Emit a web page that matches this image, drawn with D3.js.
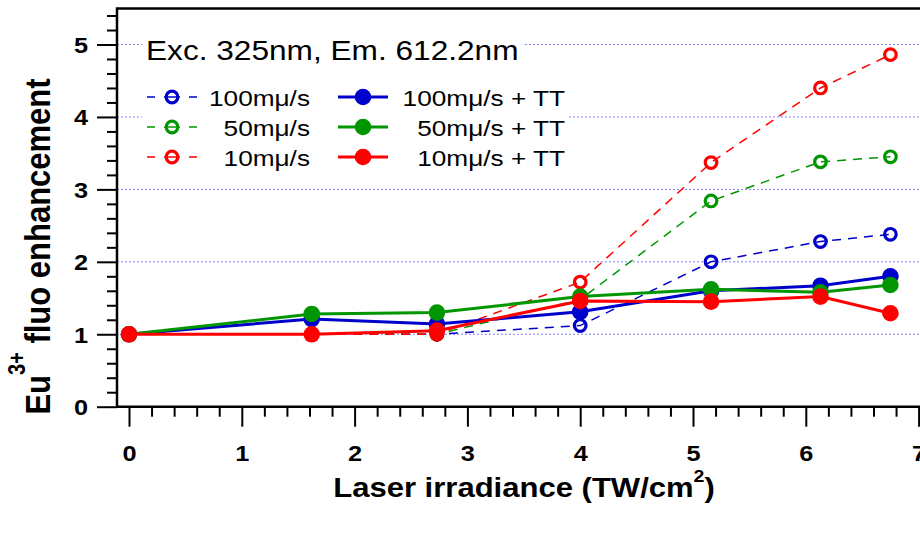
<!DOCTYPE html>
<html>
<head>
<meta charset="utf-8">
<script src="https://cdn.jsdelivr.net/npm/d3@7"></script>
<style>
  body { margin: 0; background: #fff; }
  text { font-family: 'Liberation Sans', Arial, sans-serif; }
</style>
</head>
<body>
<svg id="mainFrame" width="920" height="533"></svg>
<script>
// irradiance values (TW/cm2)
const irradianceTT = [0, 1.62, 2.73, 4.0, 5.16, 6.13, 6.75];
const irradiance = [0, 2.73, 4.0, 5.16, 6.13, 6.75];

// enhancement without TT (dashed, open markers)
const v100 = [1.0, 1.0, 1.12, 2.0, 2.28, 2.38];
const v50 = [1.0, 1.0, 1.48, 2.84, 3.38, 3.45];
const v10 = [1.0, 1.0, 1.72, 3.37, 4.40, 4.86];

// enhancement with TT (solid, filled markers)
const v100TT = [1.0, 1.21, 1.14, 1.31, 1.60, 1.67, 1.80];
const v50TT = [1.0, 1.28, 1.30, 1.52, 1.62, 1.58, 1.68];
const v10TT = [1.0, 1.0, 1.05, 1.46, 1.45, 1.52, 1.29];

const speeds = ['100mμ/s', '50mμ/s', '10mμ/s'];
const xTicks = [0, 1, 2, 3, 4, 5, 6, 7];
const yTicks = [0, 1, 2, 3, 4, 5];

const svg = d3.select('#mainFrame');
const width = +svg.attr('width');

const colors = ['#0000cc', '#009600', '#ff0000'];
const sx = 1.15;   // text in the picture is a bit wide

const render = () => {
    const left = 117, top = 8.5;
    const xScale = d3.scaleLinear().domain([0, 7]).range([129, 918.6]);
    const yScale = d3.scaleLinear().domain([0, 5]).range([406.7, 44.5]);
    const y0 = yScale(0);

    // grid
    svg.append('g').selectAll('line').data(yTicks.slice(1))
        .enter().append('line')
            .attr('x1', left).attr('x2', width)
            .attr('y1', d => yScale(d)).attr('y2', d => yScale(d))
            .attr('stroke', '#8080ff')
            .attr('stroke-width', 1)
            .attr('stroke-dasharray', '2,2');

    // x axis
    const minor = d3.range(1, 35).map(i => i / 5).filter(v => Math.abs(v - Math.round(v)) > 0.01);
    const xMinor = svg.append('g')
        .attr('transform', `translate(0,${y0})`)
        .call(d3.axisBottom(xScale).tickValues(minor).tickSize(10).tickFormat(''));
    const xAxisGroup = svg.append('g')
        .attr('transform', `translate(0,${y0})`)
        .call(d3.axisBottom(xScale).tickValues(xTicks).tickSize(20).tickFormat(d3.format('d')));

    // y axis
    const yMinor = svg.append('g')
        .attr('transform', `translate(${left},0)`)
        .call(d3.axisLeft(yScale).tickValues(d3.range(1, 28).map(i => i / 5).filter(v => Math.abs(v - Math.round(v)) > 0.01)).tickSize(10).tickFormat(''));
    const yAxisGroup = svg.append('g')
        .attr('transform', `translate(${left},0)`)
        .call(d3.axisLeft(yScale).tickValues(yTicks).tickSize(20).tickFormat(d3.format('d')));

    [xMinor, xAxisGroup, yMinor, yAxisGroup].forEach(g => {
        g.select('.domain').remove();
        g.selectAll('line').attr('stroke', '#000').attr('stroke-width', 2);
    });

    xAxisGroup.selectAll('text')
        .attr('x', 0).attr('y', 0).attr('dy', null)
        .attr('transform', `translate(0,54) scale(${sx},1)`)
        .attr('fill', '#000')
        .attr('font-family', 'Liberation Sans, Arial, sans-serif')
        .attr('font-size', 22)
        .attr('font-weight', 'bold');

    yAxisGroup.selectAll('text')
        .attr('x', 0).attr('y', 0).attr('dy', null)
        .attr('transform', `translate(-29,8) scale(${sx},1)`)
        .attr('fill', '#000')
        .attr('font-family', 'Liberation Sans, Arial, sans-serif')
        .attr('font-size', 22)
        .attr('font-weight', 'bold');

    // frame lines
    svg.append('path')
        .attr('d', `M${left},${y0}V${top}H${width}M${left},${y0}H${width}`)
        .attr('fill', 'none')
        .attr('stroke', '#000')
        .attr('stroke-width', 2.5);

    // axis labels
    const xLabel = svg.append('text')
        .attr('transform', `translate(524,497) scale(${sx},1)`)
        .attr('text-anchor', 'middle')
        .attr('font-size', 27)
        .attr('font-weight', 'bold');
    xLabel.append('tspan').text('Laser irradiance (TW/cm');
    xLabel.append('tspan').attr('font-size', 17).attr('dy', -15).text('2');
    xLabel.append('tspan').attr('dy', 15).text(')');

    const yLabel = svg.append('text')
        .attr('transform', `translate(50,246.5) rotate(-90) scale(1,${sx})`)
        .attr('text-anchor', 'middle')
        .attr('font-size', 31)
        .attr('font-weight', 'bold');
    yLabel.append('tspan').text('Eu');
    yLabel.append('tspan').attr('font-size', 20).attr('dy', -22).text('3+');
    yLabel.append('tspan').attr('dy', 22).text(' fluo enhancement');

    // annotation boxes
    svg.append('rect').attr('x', 142).attr('y', 30).attr('width', 381).attr('height', 42).attr('fill', '#fff');
    svg.append('rect').attr('x', 142).attr('y', 80).attr('width', 425).attr('height', 92).attr('fill', '#fff');

    svg.append('text')
        .attr('transform', `translate(146,60) scale(${sx},1)`)
        .attr('font-size', 27.5)
        .text('Exc. 325nm, Em. 612.2nm');

    const legend = svg.append('g');
    speeds.forEach((name, i) => {
        const ly = 97 + 30 * i;
        legend.append('line')
            .attr('x1', 147).attr('x2', 197).attr('y1', ly).attr('y2', ly)
            .attr('stroke', colors[i]).attr('stroke-width', 1.5)
            .attr('stroke-dasharray', '8,9,16,9,8');
        legend.append('circle')
            .attr('cx', 172).attr('cy', ly).attr('r', 5.8)
            .attr('fill', 'none').attr('stroke', colors[i]).attr('stroke-width', 3.2);
        legend.append('text')
            .attr('transform', `translate(310,${ly + 8.5}) scale(${sx},1)`)
            .attr('text-anchor', 'end')
            .attr('font-size', 22.8)
            .text(name);

        legend.append('line')
            .attr('x1', 338).attr('x2', 388).attr('y1', ly).attr('y2', ly)
            .attr('stroke', colors[i]).attr('stroke-width', 3);
        legend.append('circle')
            .attr('cx', 363).attr('cy', ly).attr('r', 8.3)
            .attr('fill', colors[i]);
        legend.append('text')
            .attr('transform', `translate(565,${ly + 8.5}) scale(${sx},1)`)
            .attr('text-anchor', 'end')
            .attr('font-size', 22.8)
            .text(name + ' + TT');
    });

    // data
    const line = d3.line().x(d => xScale(d[0])).y(d => yScale(d[1]));

    [v100, v50, v10].forEach((vals, i) => {
        const pts = irradiance.map((x, j) => [x, vals[j]]);
        svg.append('path')
            .attr('d', line(pts))
            .attr('fill', 'none')
            .attr('stroke', colors[i])
            .attr('stroke-width', 1.5)
            .attr('stroke-dasharray', '9,7');
        svg.append('g').selectAll('circle').data(pts)
            .enter().append('circle')
                .attr('cx', d => xScale(d[0]))
                .attr('cy', d => yScale(d[1]))
                .attr('r', 5.8)
                .attr('fill', 'none')
                .attr('stroke', colors[i])
                .attr('stroke-width', 3.2);
    });

    [v100TT, v50TT, v10TT].forEach((vals, i) => {
        const pts = irradianceTT.map((x, j) => [x, vals[j]]);
        svg.append('path')
            .attr('d', line(pts))
            .attr('fill', 'none')
            .attr('stroke', colors[i])
            .attr('stroke-width', 3);
        svg.append('g').selectAll('circle').data(pts)
            .enter().append('circle')
                .attr('cx', d => xScale(d[0]))
                .attr('cy', d => yScale(d[1]))
                .attr('r', 8.3)
                .attr('fill', colors[i]);
    });
};

render();
</script>
</body>
</html>
